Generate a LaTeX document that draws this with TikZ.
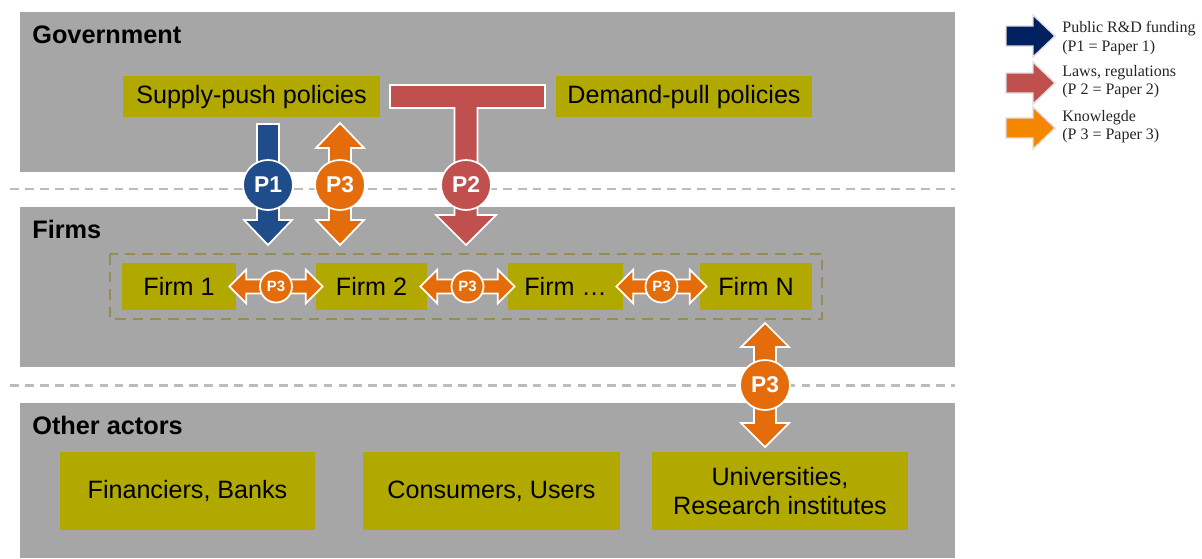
\documentclass[tikz,border=0pt]{standalone}
\usepackage{fontspec}
\setmainfont{Liberation Sans}
\newfontfamily\legendfont{Liberation Serif}
\usetikzlibrary{calc}
\definecolor{panel}{RGB}{166,166,166}
\definecolor{olivebox}{RGB}{178,169,0}
\definecolor{olivedash}{RGB}{150,140,88}
\definecolor{sepgray}{RGB}{188,188,188}
\definecolor{pblue}{RGB}{31,76,138}
\definecolor{pred}{RGB}{192,80,77}
\definecolor{porange}{RGB}{228,108,10}
\definecolor{lnavy}{RGB}{0,32,96}
\definecolor{lorange}{RGB}{244,134,0}
\def\blockdn(#1)(#2)#3#4#5#6{\filldraw[#3] ($(#1)+(-#4,0)$) -- ($(#2)+(-#4,-#6)$) -- ($(#2)+(-#5,-#6)$) -- (#2) -- ($(#2)+(#5,-#6)$) -- ($(#2)+(#4,-#6)$) -- ($(#1)+(#4,0)$) -- cycle;}
\def\blockud(#1)(#2)#3#4#5#6{\filldraw[#3] (#1) -- ($(#1)+(#5,#6)$) -- ($(#1)+(#4,#6)$) -- ($(#2)+(#4,-#6)$) -- ($(#2)+(#5,-#6)$) -- (#2) -- ($(#2)+(-#5,-#6)$) -- ($(#2)+(-#4,-#6)$) -- ($(#1)+(-#4,#6)$) -- ($(#1)+(-#5,#6)$) -- cycle;}
\def\blocklr(#1)(#2)#3#4#5#6{\filldraw[#3] (#1) -- ($(#1)+(#6,-#5)$) -- ($(#1)+(#6,-#4)$) -- ($(#2)+(-#6,-#4)$) -- ($(#2)+(-#6,-#5)$) -- (#2) -- ($(#2)+(-#6,#5)$) -- ($(#2)+(-#6,#4)$) -- ($(#1)+(#6,#4)$) -- ($(#1)+(#6,#5)$) -- cycle;}
\def\blockrt(#1)(#2)#3#4#5#6{\filldraw[#3] ($(#1)+(0,-#4)$) -- ($(#2)+(-#6,-#4)$) -- ($(#2)+(-#6,-#5)$) -- (#2) -- ($(#2)+(-#6,#5)$) -- ($(#2)+(-#6,#4)$) -- ($(#1)+(0,#4)$) -- cycle;}

\begin{document}
\begin{tikzpicture}[x=0.02cm,y=-0.02cm,
		box/.style={fill=olivebox, inner sep=0pt, align=center, font=\fontsize{14.3}{16.5}\selectfont},
		bigtag/.style={circle, draw=white, line width=1pt, minimum size=1cm, inner sep=0pt, text=white, font=\bfseries\fontsize{13}{13}\selectfont},
		smalltag/.style={bigtag, minimum size=0.64cm, font=\bfseries\fontsize{8.5}{8.5}\selectfont},
		title/.style={anchor=base west, inner sep=0pt, font=\bfseries\fontsize{14.4}{16}\selectfont},
		legend/.style={anchor=west, inner sep=0pt, align=left, text=black!85, font=\legendfont\fontsize{9.1}{10.4}\selectfont},
		blk/.style={draw=white, line width=1pt}]
				\useasboundingbox (0,0) rectangle (1202,558);
				\fill[white] (0,0) rectangle (1202,558);
				
				\fill[panel] (20,12) rectangle (955,172);
				\fill[panel] (20,207) rectangle (955,367);
				\fill[panel] (20,403) rectangle (955,558);
				\draw[sepgray, line width=1.7pt, dash pattern=on 5pt off 3.5pt] (10,189) -- (955,189);
				\draw[sepgray, line width=1.7pt, dash pattern=on 5pt off 3.5pt] (10,385) -- (955,385);
				
				\node[title] (gov) at (32,43) {Government};
				\node[title] (firms) at (32,238) {Firms};
				\node[title] (others) at (32,434) {Other actors};
				
				\node[box, minimum width=5.14cm, minimum height=0.82cm] (sp) at (251.5,96.5) {Supply-push policies};
				\node[box, minimum width=5.12cm, minimum height=0.82cm] (dp) at (684,96.5) {Demand-pull policies};
				
				\draw[olivedash, line width=1.3pt, dash pattern=on 6pt off 4pt] (110,254) rectangle (822,319);
				\node[box, minimum width=2.28cm, minimum height=0.94cm] (f1) at (179,286.5) {Firm 1};
				\node[box, minimum width=2.22cm, minimum height=0.94cm] (f2) at (371.5,286.5) {Firm 2};
				\node[box, minimum width=2.30cm, minimum height=0.94cm] (f3) at (565.5,286.5) {Firm \dots};
				\node[box, minimum width=2.24cm, minimum height=0.94cm] (fN) at (756,286.5) {Firm N};
				
				\node[box, minimum width=5.10cm, minimum height=1.56cm] (fin) at (187.5,491) {Financiers, Banks};
				\node[box, minimum width=5.14cm, minimum height=1.56cm] (con) at (491.5,491) {Consumers, Users};
				\node[box, minimum width=5.12cm, minimum height=1.56cm] (uni) at (780,491) {Universities,\\Research institutes};
				
				\coordinate (p1a) at (268,124);
				\coordinate (p1b) at (268,245);
				\blockdn(p1a)(p1b){blk, fill=pblue}{11}{24}{25}
				\node[bigtag, fill=pblue] (t1) at (268,185) {P1};
				
				\coordinate (p3a) at (340,123);
				\coordinate (p3b) at (340,245);
				\blockud(p3a)(p3b){blk, fill=porange}{11}{24}{25}
				\node[bigtag, fill=porange] (t3) at (340,185) {P3};
				
				\coordinate (p2a) at (466,108);
				\coordinate (p2b) at (466,245);
				\filldraw[blk, fill=pred] (390,85) -- (545,85) -- (545,108) -- ($(p2a)+(11.5,0)$) -- ($(p2b)+(11.5,-30)$) -- ($(p2b)+(30,-30)$) -- (p2b) -- ($(p2b)+(-30,-30)$) -- ($(p2b)+(-11.5,-30)$) -- ($(p2a)+(-11.5,0)$) -- (390,108) -- cycle;
				\node[bigtag, fill=pred] (t2) at (466,185) {P2};
				
				\coordinate (h1a) at ($(f1.east)+(-7,0)$);
				\coordinate (h1b) at ($(f2.west)+(7,0)$);
				\blocklr(h1a)(h1b){blk, fill=porange}{7}{17}{17}
				\node[smalltag, fill=porange] (k1) at ($(h1a)!0.5!(h1b)$) {P3};
				
				\coordinate (h2a) at ($(f2.east)+(-7,0)$);
				\coordinate (h2b) at ($(f3.west)+(7,0)$);
				\blocklr(h2a)(h2b){blk, fill=porange}{7}{17}{17}
				\node[smalltag, fill=porange] (k2) at ($(h2a)!0.5!(h2b)$) {P3};
				
				\coordinate (h3a) at ($(f3.east)+(-7,0)$);
				\coordinate (h3b) at ($(fN.west)+(7,0)$);
				\blocklr(h3a)(h3b){blk, fill=porange}{7}{17}{17}
				\node[smalltag, fill=porange] (k3) at ($(h3a)!0.5!(h3b)$) {P3};
				
				\coordinate (u3a) at (765,323);
				\coordinate (u3b) at (765,447);
				\blockud(u3a)(u3b){blk, fill=porange}{11}{24}{24}
				\node[bigtag, fill=porange] (t4) at (765,385) {P3};
				
				\coordinate (la1) at (1006,36);
				\coordinate (lb1) at (1055,36);
				\blockrt(la1)(lb1){draw=black!12, line width=0.8pt, fill=lnavy}{10}{21}{22}
				\node[legend] (lg1) at (1062,38) {Public R\&D funding\\(P1 = Paper 1)};
				
				\coordinate (la2) at (1006,83);
				\coordinate (lb2) at (1055,83);
				\blockrt(la2)(lb2){draw=black!12, line width=0.8pt, fill=pred}{10}{21}{22}
				\node[legend] (lg2) at (1062,82) {Laws, regulations\\(P 2 = Paper 2)};
				
				\coordinate (la3) at (1006,128);
				\coordinate (lb3) at (1055,128);
				\blockrt(la3)(lb3){draw=black!12, line width=0.8pt, fill=lorange}{10}{21}{22}
				\node[legend] (lg3) at (1062,127) {Knowlegde\\(P 3 = Paper 3)};
			\end{tikzpicture}
\end{document}
